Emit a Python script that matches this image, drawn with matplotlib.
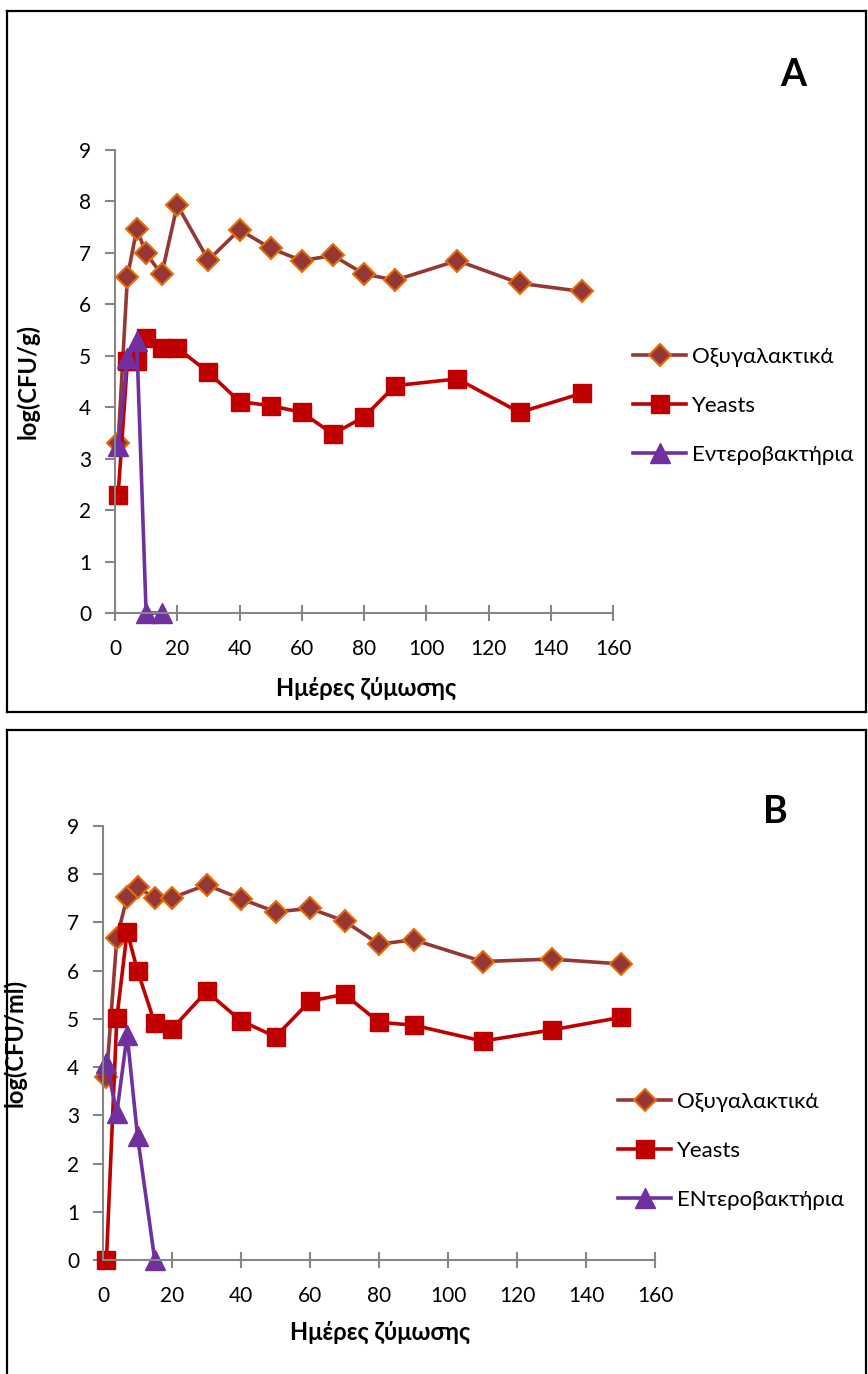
import matplotlib
matplotlib.use("Agg")
import matplotlib.pyplot as plt
from matplotlib.lines import Line2D

plt.rcParams['font.family'] = ['Lato', 'DejaVu Sans']

# sampling days
days_a = [1, 4, 7, 10, 15, 20, 30, 40, 50, 60, 70, 80, 90, 110, 130, 150]
days_b = [1, 4, 7, 10, 15, 20, 30, 40, 50, 60, 70, 80, 90, 110, 130, 150]
days_ent = [1, 4, 7, 10, 15]

# panel A: log(CFU/g)
lab_a = [3.30, 6.54, 7.46, 6.99, 6.58, 7.93, 6.86, 7.45, 7.09, 6.85, 6.95, 6.59, 6.47, 6.85, 6.41, 6.25]
yeast_a = [2.30, 4.89, 4.89, 5.34, 5.15, 5.15, 4.68, 4.11, 4.03, 3.90, 3.48, 3.81, 4.42, 4.55, 3.90, 4.27]
ent_a = [3.24, 4.95, 5.28, 0.0, 0.0]

# panel B: log(CFU/ml)
lab_b = [3.79, 6.67, 7.53, 7.74, 7.50, 7.51, 7.78, 7.49, 7.22, 7.29, 7.03, 6.55, 6.64, 6.19, 6.24, 6.14]
yeast_b = [0.0, 5.01, 6.81, 6.00, 4.91, 4.79, 5.57, 4.96, 4.63, 5.37, 5.51, 4.93, 4.87, 4.54, 4.77, 5.03]
ent_b = [4.08, 3.05, 4.67, 2.57, 0.0]

labels_a = ['Οξυγαλακτικά', 'Yeasts', 'Εντεροβακτήρια']
labels_b = ['Οξυγαλακτικά', 'Yeasts', 'ΕΝτεροβακτήρια']

W, H = 868, 1374
fig = plt.figure(figsize=(W / 100, H / 100), dpi=100)


def px_axes(left, top, right, bottom):
    return fig.add_axes([left / W, 1 - bottom / H, (right - left) / W, (bottom - top) / H])


def frame(x0, y0, x1, y1, sides):
    pts = {'top': ([x0, x1], [y0, y0]), 'bottom': ([x0, x1], [y1, y1]),
           'left': ([x0, x0], [y0, y1]), 'right': ([x1, x1], [y0, y1])}
    for s in sides:
        xs, ys = pts[s]
        fig.add_artist(Line2D([x / W for x in xs], [1 - y / H for y in ys],
                              color='black', lw=1.6, transform=fig.transFigure))


def draw_panel(ax, lab, yeast, ent, days, labels, ylabel, letter, letter_xy,
               leg_anchor, xlab_pos, ylab_pos):
    ax.plot(days, lab, color='#953735', lw=2.6, marker='D', ms=11,
            mfc='#953735', mec='#E46C0A', mew=1.5, clip_on=False, label=labels[0])
    ax.plot(days, yeast, color='#C00000', lw=2.6, marker='s', ms=13,
            mfc='#C00000', mec='#C00000', clip_on=False, label=labels[1])
    ax.plot(days_ent, ent, color='#7030A0', lw=2.6, marker='^', ms=14,
            mfc='#7030A0', mec='#7030A0', clip_on=False, label=labels[2])
    ax.set_xlim(0, 160)
    ax.set_ylim(0, 9)
    ax.set_xticks(range(0, 161, 20))
    ax.set_yticks(range(0, 10))
    for s in ['top', 'right']:
        ax.spines[s].set_visible(False)
    for s in ['left', 'bottom']:
        ax.spines[s].set_color('#868686')
        ax.spines[s].set_linewidth(1.5)
    ax.tick_params(axis='both', colors='#868686', width=1.5, length=6,
                   labelcolor='black', labelsize=15)
    ax.tick_params(axis='x', direction='inout', length=12, pad=13)
    ax.tick_params(axis='y', direction='out', length=7, pad=10)
    ax.set_xlabel('Ημέρες ζύμωσης', fontsize=17, fontweight='bold')
    ax.set_ylabel(ylabel, fontsize=17, fontweight='bold')
    ax.xaxis.set_label_coords(*xlab_pos)
    ax.yaxis.set_label_coords(*ylab_pos)
    fig.text(letter_xy[0] / W, 1 - letter_xy[1] / H, letter, fontsize=27,
             fontweight='bold', ha='center', va='center')
    ax.legend(loc='center left', bbox_to_anchor=leg_anchor, frameon=False,
              fontsize=16, handlelength=2.4, handletextpad=0.25, labelspacing=1.3,
              borderaxespad=0)


# panel A
frame(7, 11, 866, 712, ['top', 'bottom', 'left', 'right'])
ax_a = px_axes(115, 150, 613, 613)
draw_panel(ax_a, lab_a, yeast_a, ent_a, days_a, labels_a, 'log(CFU/g)', 'A', (793, 75),
           ((624 - 115) / 498, (613 - 406) / 463), (0.504, -0.138), (-0.151, 0.5))

# panel B
frame(7, 730, 866, 1380, ['top', 'left', 'right'])
ax_b = px_axes(103, 826, 655, 1260)
draw_panel(ax_b, lab_b, yeast_b, ent_b, days_b, labels_b, 'log(CFU/ml)', 'B', (775, 812),
           ((609 - 103) / 552, (1260 - 1151) / 434), (0.502, -0.140), (-0.138, 0.5))

fig.savefig('out.png', dpi=100)
